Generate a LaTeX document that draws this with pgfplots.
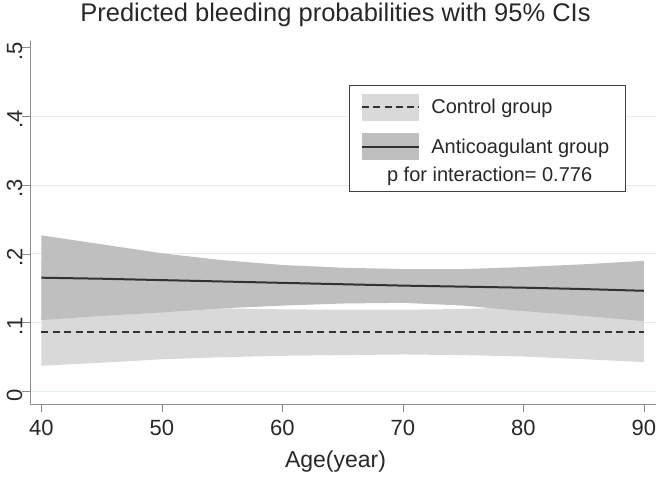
\documentclass[border=0pt]{standalone}
\usepackage{fontspec}
\setmainfont{Liberation Sans}
\usepackage{pgfplots}
\usepackage{pgfplotstable}
\pgfplotsset{compat=1.18}
\usepgfplotslibrary{fillbetween}

\definecolor{bandlight}{RGB}{217,217,217}
\definecolor{banddark}{RGB}{191,191,191}
\definecolor{gridc}{RGB}{226,236,238}
\definecolor{axisc}{RGB}{140,140,140}
\definecolor{txt}{RGB}{40,40,40}
\definecolor{linec}{RGB}{50,50,50}

% control group: predicted probability and 95% CI
\pgfplotstableread{
age  mean   lo     hi
40   0.086  0.0375 0.190
45   0.086  0.042  0.160
50   0.086  0.047  0.136
55   0.086  0.050  0.121
60   0.086  0.052  0.1195
65   0.086  0.053  0.119
70   0.086  0.054  0.119
75   0.086  0.053  0.120
80   0.086  0.051  0.123
85   0.086  0.047  0.133
90   0.086  0.043  0.150
}\ctrl

% anticoagulant group
\pgfplotstableread{
age  mean   lo     hi
40   0.1655 0.104  0.227
45   0.164  0.110  0.214
50   0.162  0.115  0.201
55   0.160  0.121  0.191
60   0.158  0.125  0.184
65   0.156  0.128  0.180
70   0.154  0.129  0.178
75   0.1525 0.125  0.178
80   0.151  0.117  0.181
85   0.149  0.110  0.185
90   0.1465 0.1025 0.190
}\anti

\begin{document}
\begin{tikzpicture}
\begin{axis}[
  name=ax,
  scale only axis,
  width=626pt, height=363pt,
  xmin=39.05, xmax=91, ymin=-0.018, ymax=0.5094,
  axis x line*=bottom, axis y line*=left,
  axis line style={axisc, line width=0.8pt},
  xtick={40,50,...,90},
  ytick={0,0.1,0.2,0.3,0.4}, yticklabels={0,.1,.2,.3,.4},
  extra y ticks={0.5}, extra y tick labels={.5},
  extra y tick style={grid=none},
  tick align=outside, major tick length=7.5pt,
  tick style={axisc, line width=0.8pt},
  ymajorgrids, grid style={gridc, line width=1pt},
  /pgf/number format/assume math mode=true,
  tick label style={font=\fontsize{22}{24}\selectfont, text=txt},
  yticklabel style={rotate=90, anchor=south, inner sep=0pt, xshift=-3.5pt},
  xticklabel style={anchor=north, inner sep=0pt, yshift=-8pt},
  title={Predicted bleeding probabilities with 95\% CIs},
  title style={at={(0.488,1)}, anchor=base, yshift=13.8pt,
    font=\fontsize{25.5}{29}\selectfont, text=txt},
  xlabel={Age(year)},
  xlabel style={at={(0.488,0)}, anchor=base, yshift=-63.5pt,
    font=\fontsize{23}{26}\selectfont, text=txt},
  legend style={at={(0.5096,0.8788)}, anchor=north west,
    draw=black!75, line width=0.9pt, fill=white,
    inner xsep=11.7pt, inner ysep=8.3pt,
    font=\fontsize{20}{24}\selectfont, text=txt,
    nodes={inner sep=0pt}, row sep=12.7pt,
    /tikz/every odd column/.append style={column sep=12pt}},
  legend cell align=left,
]
\addplot[name path=cu, draw=none, forget plot] table[x=age, y=hi] {\ctrl};
\addplot[name path=cl, draw=none, forget plot] table[x=age, y=lo] {\ctrl};
\addplot[bandlight, forget plot] fill between[of=cu and cl];

\addplot[name path=au, draw=none, forget plot] table[x=age, y=hi] {\anti};
\addplot[name path=al, draw=none, forget plot] table[x=age, y=lo] {\anti};
\addplot[banddark, forget plot] fill between[of=au and al];

\addplot[linec, line width=2pt, dash pattern=on 7pt off 4.5pt, forget plot]
  table[x=age, y=mean] {\ctrl};
\addplot[linec, line width=2pt, forget plot] table[x=age, y=mean] {\anti};

\addlegendimage{legend image code/.code={
  \fill[bandlight] (0pt,-13pt) rectangle (56.6pt,13pt);
  \draw[linec, line width=1.6pt, dash pattern=on 7pt off 4.3pt] (0pt,0pt) -- (56.6pt,0pt);}}
\addlegendentry{Control group}
\addlegendimage{legend image code/.code={
  \fill[banddark] (0pt,-13pt) rectangle (56.6pt,13pt);
  \draw[linec, line width=1.6pt] (0pt,0pt) -- (56.6pt,0pt);}}
\addlegendentry{Anticoagulant group\hspace*{4pt}}
\addlegendimage{empty legend}
\addlegendentry{\hspace*{-44.3pt}\raisebox{0pt}[9pt][4pt]{p for interaction= 0.776}}
\end{axis}
\pgfresetboundingbox
\path[use as bounding box] ([xshift=-30pt,yshift=-73pt]ax.south west)
  rectangle ([xshift=630pt,yshift=404pt]ax.south west);
\end{tikzpicture}
\end{document}
